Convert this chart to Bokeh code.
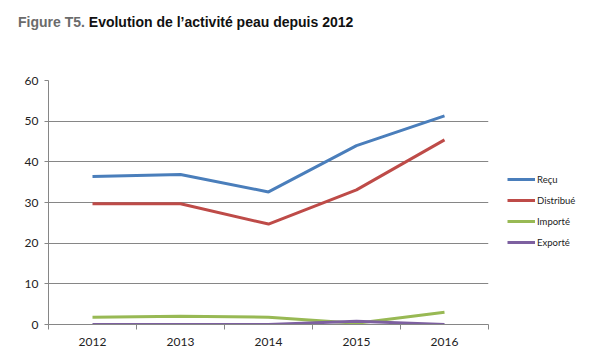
from bokeh.plotting import figure
from bokeh.models import FixedTicker, Legend, LegendItem, Range1d, Div
from bokeh.layouts import column
from bokeh.embed import file_html
from bokeh.resources import INLINE

years = ["2012", "2013", "2014", "2015", "2016"]
recu = [36.4, 36.9, 32.6, 44.0, 51.3]
distribue = [29.7, 29.7, 24.7, 33.1, 45.4]
importe = [1.8, 2.0, 1.8, 0.3, 3.0]
exporte = [0.0, 0.0, 0.0, 0.8, 0.0]
y_ticks = [0, 10, 20, 30, 40, 50, 60]

series = [("Reçu", recu, "#4A7EBB"), ("Distribué", distribue, "#BE4B48"),
          ("Importé", importe, "#98B954"), ("Exporté", exporte, "#7D60A0")]

W = 581
DIV_H = 34

title = Div(
    text=("<div style='padding:14px 0 0 18px; font-family:\"Liberation Sans\"; font-weight:bold;"
          " font-size:14px; line-height:17px; white-space:nowrap; color:#111111'>"
          "<span style='color:#6b6b6b'>Figure T5.</span> Evolution de l\u2019activité peau depuis 2012</div>"),
    width=W, height=DIV_H, margin=(0, 0, 0, 0))

p = figure(frame_width=440, frame_height=244, output_backend="svg", toolbar_location=None,
           x_range=Range1d(0, len(years)), y_range=Range1d(0, 60),
           min_border_left=48, min_border_right=93, min_border_top=80 - DIV_H,
           min_border_bottom=25, margin=(0, 0, 0, 0))
p.outline_line_color = None

xs = [i + 0.5 for i in range(len(years))]
items = []
for name, vals, col in series:
    r = p.line(xs, vals, line_color=col, line_width=3)
    items.append(LegendItem(label=name, renderers=[r]))

grey = "#868686"
p.xgrid.visible = False
p.ygrid.grid_line_color = grey
p.ygrid.ticker = FixedTicker(ticks=y_ticks)

p.yaxis.ticker = FixedTicker(ticks=y_ticks)
p.yaxis.axis_line_color = grey
p.yaxis.major_tick_line_color = grey
p.yaxis.major_tick_out = 4
p.yaxis.major_tick_in = 0
p.yaxis.minor_tick_line_color = None
p.yaxis.major_label_text_font = "Lato"
p.yaxis.major_label_text_font_size = "12px"
p.yaxis.major_label_text_color = "#222222"
p.yaxis.major_label_standoff = 6

p.xaxis.ticker = FixedTicker(ticks=xs, minor_ticks=list(range(len(years) + 1)))
p.xaxis.major_label_overrides = {x: y for x, y in zip(xs, years)}
p.xaxis.axis_line_color = grey
p.xaxis.major_tick_line_color = None
p.xaxis.minor_tick_line_color = grey
p.xaxis.minor_tick_out = 5
p.xaxis.minor_tick_in = 0
p.xaxis.major_label_text_font = "Lato"
p.xaxis.major_label_text_font_size = "12px"
p.xaxis.major_label_text_color = "#222222"
p.xaxis.major_label_standoff = 7

legend = Legend(items=items, location=(19, 76), padding=0, margin=0, border_line_color=None,
                background_fill_alpha=0, glyph_width=28, glyph_height=12, label_height=12,
                spacing=9, label_standoff=2, label_text_font="Lato",
                label_text_font_size="9.5px", label_text_color="#222222")
p.add_layout(legend, "right")

open("out.html", "w").write(file_html(column(title, p, margin=(0, 0, 0, 0)), INLINE))
